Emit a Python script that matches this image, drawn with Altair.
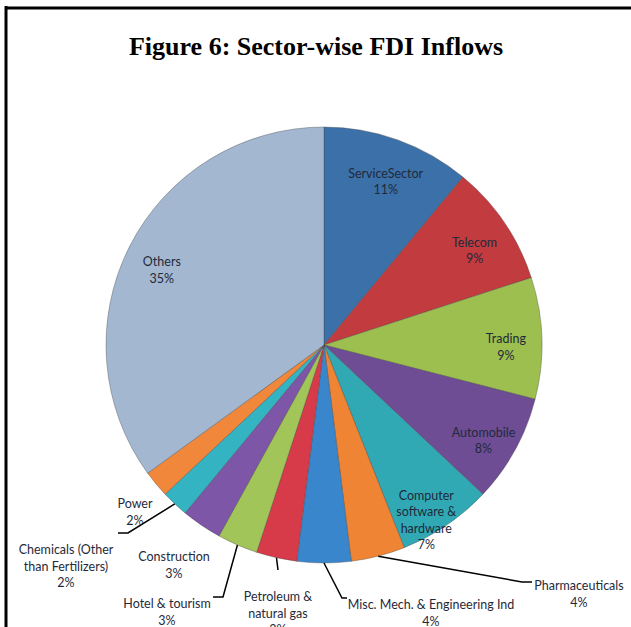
import altair as alt
import pandas as pd
import numpy as np

# ---------------- data ----------------
sectors = [
    "ServiceSector", "Telecom", "Trading", "Automobile",
    "Computer software & hardware", "Pharmaceuticals",
    "Misc. Mech. & Engineering Ind", "Petroleum & natural gas",
    "Hotel & tourism", "Construction",
    "Chemicals (Other than Fertilizers)", "Power", "Others",
]
shares = [11, 9, 9, 8, 7, 4, 4, 3, 3, 3, 2, 2, 35]
label_names = [
    "ServiceSector", "Telecom", "Trading", "Automobile",
    "Computer\nsoftware &\nhardware", "Pharmaceuticals",
    "Misc. Mech. & Engineering Ind", "Petroleum &\nnatural gas",
    "Hotel & tourism", "Construction",
    "Chemicals (Other\nthan Fertilizers)", "Power", "Others",
]
inside = ["ServiceSector", "Telecom", "Trading", "Automobile",
          "Computer software & hardware", "Others"]

# ---------------- styles / layout ----------------
colors = [
    "#3c70a8", "#c23b3f", "#9cbf4f", "#6e4d95", "#30a9b5", "#ee8434",
    "#3a86cc", "#d73a48", "#a2c55a", "#7e56a8", "#34b3c3", "#f0873a",
    "#a3b7d0",
]
W, H = 631, 627
CX, CY = 324, 345
R = 218
R_LABEL = 182
FONT = "Lato"
FS = 12.5
LH = 16.5
TXT = "#1f2a3a"

# outside label block centres (canvas px)
out_pos = {
    "Pharmaceuticals": (579, 586),
    "Misc. Mech. & Engineering Ind": (431, 605),
    "Petroleum & natural gas": (278, 597),
    "Hotel & tourism": (167, 604),
    "Construction": (174, 557),
    "Chemicals (Other than Fertilizers)": (66, 550),
    "Power": (135, 504),
}
# leader line elbows (canvas px), start is on the pie edge at slice middle
leader_pts = {
    "Pharmaceuticals": [(522, 582), (532, 582)],
    "Misc. Mech. & Engineering Ind": [(342, 598), (347, 598)],
    "Petroleum & natural gas": [(278, 570)],
    "Hotel & tourism": [(223, 597), (213, 597)],
    "Chemicals (Other than Fertilizers)": [(128, 533), (118, 533)],
}

# ---------------- tables ----------------
df = pd.DataFrame({
    "idx": list(range(len(sectors))),
    "sector": sectors,
    "value": shares,
})
df["inlabel"] = [
    f"{n}\n{v}%" if s in inside else ""
    for s, n, v in zip(sectors, label_names, shares)
]

rows = []
for s, n, v in zip(sectors, label_names, shares):
    if s in out_pos:
        x, y = out_pos[s]
        rows.append({"x": x, "y": y, "txt": f"{n}\n{v}%"})
out_df = pd.DataFrame(rows)

cum = np.cumsum([0] + shares)
lines = []
for i, s in enumerate(sectors):
    if s in leader_pts:
        a = (cum[i] + shares[i] / 2) / 100 * 2 * np.pi
        pts = [(CX + R * np.sin(a), CY - R * np.cos(a))] + leader_pts[s]
        for k, (x, y) in enumerate(pts):
            lines.append({"seg": s, "o": k, "x": x, "y": y})
line_df = pd.DataFrame(lines)

# ---------------- chart ----------------
base = alt.Chart(df).encode(
    theta=alt.Theta("value:Q", stack=True),
    order=alt.Order("idx:Q", sort="ascending"),
    x=alt.value(CX),
    y=alt.value(CY),
)

pie = base.mark_arc(
    outerRadius=R, stroke="#404040", strokeWidth=0.8, strokeOpacity=0.45
).encode(
    color=alt.Color("sector:N", scale=alt.Scale(domain=sectors, range=colors),
                    legend=None),
)

in_text = base.mark_text(
    radius=R_LABEL, font=FONT, fontSize=FS, lineBreak="\n", lineHeight=LH,
    color=TXT, align="center", baseline="middle",
).encode(
    text=alt.Text("inlabel:N"),
    detail=alt.Detail("sector:N"),
)

out_text = alt.Chart(out_df).mark_text(
    font=FONT, fontSize=FS, lineBreak="\n", lineHeight=LH,
    color=TXT, align="center", baseline="middle",
).encode(
    x=alt.X("x:Q", scale=None),
    y=alt.Y("y:Q", scale=None),
    text=alt.Text("txt:N"),
)

leaders = alt.Chart(line_df).mark_line(color="black", strokeWidth=1.5).encode(
    x=alt.X("x:Q", scale=None),
    y=alt.Y("y:Q", scale=None),
    detail="seg:N",
    order="o:Q",
)

title = alt.Chart(pd.DataFrame({"t": ["Figure 6: Sector-wise FDI Inflows"]})).mark_text(
    font="Liberation Serif", fontSize=26, fontWeight="bold", color="black",
    align="center", baseline="alphabetic",
).encode(x=alt.value(316), y=alt.value(55), text="t:N")

border_left = alt.Chart(df.head(1)).mark_rule(color="black", strokeWidth=3).encode(
    x=alt.value(6), y=alt.value(6), y2=alt.value(H))
border_top = alt.Chart(df.head(1)).mark_rule(color="black", strokeWidth=3).encode(
    x=alt.value(5), x2=alt.value(W), y=alt.value(8))

chart = alt.layer(
    pie, in_text, leaders, out_text, title, border_left, border_top
).properties(
    width=W, height=H,
    autosize=alt.AutoSizeParams(type="none"),
    padding=0,
    background="white",
).configure_view(stroke=None)

chart.save("out.html", embed_options={"renderer": "svg", "actions": False})
